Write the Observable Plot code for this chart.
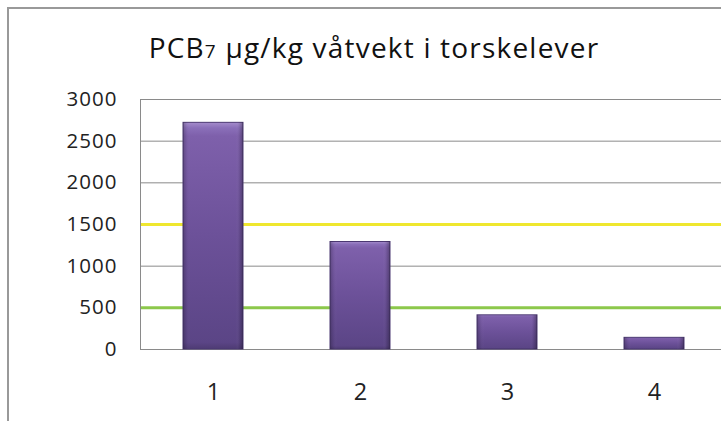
<!DOCTYPE html>
<html>
<head>
<meta charset="utf-8">
<script src="https://cdn.jsdelivr.net/npm/d3@7"></script>
<script src="https://cdn.jsdelivr.net/npm/@observablehq/plot@0.6"></script>
<style>
  html, body { margin: 0; padding: 0; background: #fff; overflow: hidden; }
  #wrap { position: relative; width: 721px; height: 421px; overflow: hidden; font-family: "Open Sans", Lato, sans-serif; }
  #border { position: absolute; left: 7px; top: 7px; width: 760px; height: 460px; border-left: 2px solid #999; border-top: 2px solid #999; pointer-events: none; }
  #title { position: absolute; left: 0; width: 748px; top: 28px; text-align: center; font-size: 28px; color: #111; white-space: nowrap; letter-spacing: 1.2px; line-height: normal; }
  #title .sub { font-size: 19px; }
  #chart { position: absolute; left: 0; top: 0; }
</style>
</head>
<body>
<div id="wrap">
  <div id="chart"></div>
  <div id="border"></div>
  <div id="title">PCB<span class="sub">7</span> µg/kg våtvekt i torskelever</div>
</div>
<script>
const categories = ["1", "2", "3", "4"];
const values = [2720, 1290, 410, 140];
const yTicks = [0, 500, 1000, 1500, 2000, 2500, 3000];
const thresholdValues = [1500, 500];
const thresholdColors = ["#efe72f", "#8cc84b"];

const data = categories.map((c, i) => ({cat: c, value: values[i]}));
const thresholds = thresholdValues.map((v, i) => ({value: v, color: thresholdColors[i]}));

const W = 721, H = 421, ML = 140, MT = 99, MB = 72;

const plot = Plot.plot({
  width: W,
  height: H,
  marginLeft: ML,
  marginRight: 0,
  marginTop: MT,
  marginBottom: MB,
  style: {fontFamily: "'Open Sans', Lato, sans-serif", fontSize: "20px", color: "#222", background: "transparent"},
  x: {domain: categories, range: [ML, ML + 4 * 147], paddingInner: 0.59, paddingOuter: 0.295, label: null},
  y: {domain: [0, 3000], label: null},
  marks: [
    Plot.ruleY(yTicks, {stroke: "#8a8a8a", strokeWidth: 1}),
    Plot.ruleY(thresholds, {y: "value", stroke: "color", strokeWidth: 3}),
    Plot.barY(data, {x: "cat", y: "value", fill: "url(#barGrad)", stroke: "#4b3872", strokeWidth: 1}),
    Plot.barY(data, {x: "cat", y: "value", fill: "url(#barEdge)"}),
    Plot.axisY({ticks: yTicks, tickSize: 0, tickPadding: 23, tickFormat: d => String(d), fontSize: 20.5}),
    Plot.axisX({tickSize: 0, tickPadding: 34, fontSize: 23.5})
  ]
});

const svg = d3.select(plot);
svg.selectAll("[aria-label='y-axis tick label'] text, [aria-label='y-axis tick label']").style("letter-spacing", "1px");
const defs = svg.insert("defs", ":first-child");
const g1 = defs.append("linearGradient").attr("id", "barGrad").attr("x1", 0).attr("y1", 0).attr("x2", 0).attr("y2", 1);
[[0, "#a58ccc"], [0.025, "#8a6fb9"], [0.06, "#7e60ab"], [0.5, "#6c5199"], [0.97, "#5b4586"], [1, "#4e3b74"]]
  .forEach(([o, c]) => g1.append("stop").attr("offset", o).attr("stop-color", c));
const g2 = defs.append("linearGradient").attr("id", "barEdge").attr("x1", 0).attr("y1", 0).attr("x2", 1).attr("y2", 0);
[[0, "#000", 0.22], [0.06, "#000", 0.05], [0.12, "#fff", 0.0], [0.88, "#fff", 0.0], [0.94, "#000", 0.08], [1, "#000", 0.3]]
  .forEach(([o, c, a]) => g2.append("stop").attr("offset", o).attr("stop-color", c).attr("stop-opacity", a));

// left edge of plot area
svg.append("line").attr("x1", ML + 0.5).attr("x2", ML + 0.5).attr("y1", MT).attr("y2", H - MB)
  .attr("stroke", "#8a8a8a").attr("stroke-width", 1);

document.getElementById("chart").appendChild(plot);
</script>
</body>
</html>
